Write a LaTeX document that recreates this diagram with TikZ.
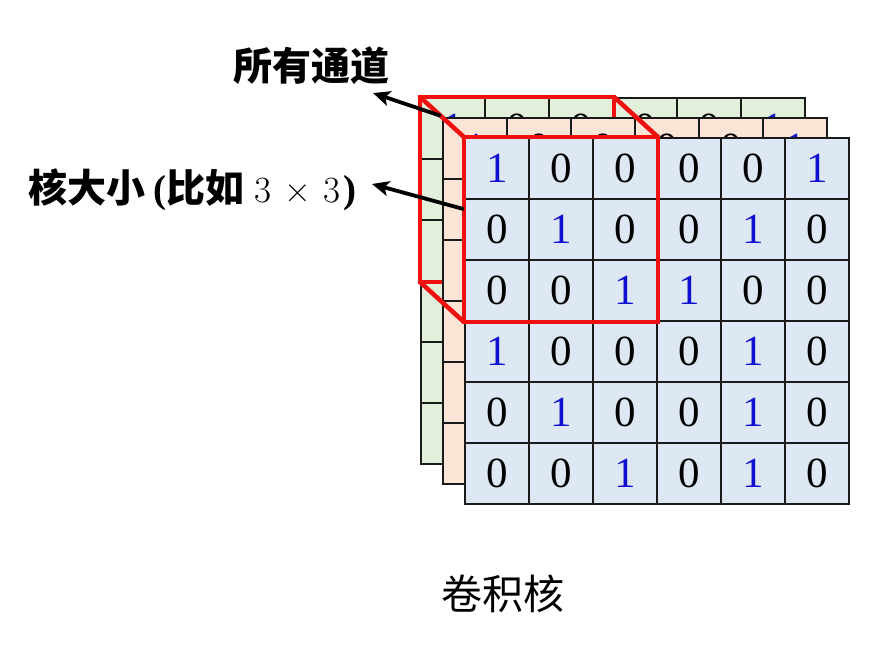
\documentclass[tikz,border=0pt]{standalone}
\usepackage{fontspec}
\setmainfont{Liberation Serif}
\newfontfamily\cjk{Noto Sans CJK SC}
\newfontfamily\lmr{Latin Modern Roman}
\usetikzlibrary{arrows.meta,calc}
\definecolor{gfill}{HTML}{E2EFDA}
\definecolor{ofill}{HTML}{FBE5D6}
\definecolor{bfill}{HTML}{DDE8F4}
\definecolor{gridc}{HTML}{1A1A1A}
\definecolor{redc}{HTML}{F01010}
\definecolor{oneblue}{HTML}{1010D0}
\tikzset{
  cellbox/.style={draw=gridc, line width=2pt, minimum width=64pt, minimum height=61pt, inner sep=0pt, anchor=north west, font=\fontsize{43}{43}\selectfont},
  redline/.style={draw=redc, line width=4.5pt, line join=miter},
  callout/.style={-{Stealth[length=17pt,width=15pt,inset=4pt]}, line width=3.8pt, black},
  lab/.style={font=\cjk\bfseries\fontsize{39}{39}\selectfont, inner sep=0pt},
}
\newcommand\layer[4]{% x y fill prefix
  \foreach \r/\row in {0/{1,0,0,0,0,1},1/{0,1,0,0,1,0},2/{0,0,1,1,0,0},3/{1,0,0,0,1,0},4/{0,1,0,0,1,0},5/{0,0,1,0,1,0}}{
    \foreach \v [count=\c from 0] in \row {
      \ifnum\v=1
        \node[cellbox, fill=#3, text=oneblue] (#4-\r-\c) at ({#1+64*\c},{#2+61*\r}) {1};
      \else
        \node[cellbox, fill=#3, text=black] (#4-\r-\c) at ({#1+64*\c},{#2+61*\r}) {0};
      \fi
    }
  }
}
\begin{document}
\begin{tikzpicture}[x=1pt,y=-1pt]
\useasboundingbox (0,0) rectangle (877,649);
% back (green) layer
\layer{420}{97}{gfill}{g}
\coordinate (bTL) at (g-0-0.north west);
\coordinate (bTR) at (g-0-2.north east);
\coordinate (bBL) at (g-2-0.south west);
\coordinate (bBR) at (g-2-2.south east);
\draw[redline] (bTL) rectangle (bBR);
% middle (orange) layer
\layer{442}{117}{ofill}{o}
% front (blue) layer
\layer{464}{137}{bfill}{f}
\coordinate (fTL) at (f-0-0.north west);
\coordinate (fTR) at (f-0-2.north east);
\coordinate (fBL) at (f-2-0.south west);
\coordinate (fBR) at (f-2-2.south east);
\draw[redline, line cap=round] (bTL) -- (fTL);
\draw[redline, line cap=round] (bTR) -- (fTR);
\draw[redline, line cap=round] (bBL) -- (fBL);
\draw[redline] (fTL) rectangle (fBR);
% labels
\node[lab] (all) at (311,66) {所有通道};
\node[lab, anchor=west] (ksize) at (28,190) {核大小\hspace{8pt}{\rmfamily\bfseries(}比如{\lmr\mdseries\fontsize{37}{37}\selectfont\hspace{10pt}3\hspace{13pt}×\hspace{13pt}3}{\rmfamily\bfseries\hspace{3pt})}};
\node[font=\cjk\fontsize{41}{41}\selectfont, inner sep=0pt] (title) at (503,594) {卷积核};
\coordinate (a1) at ($(bTL)!0.47!(fTL)$);
\coordinate (a1tip) at (373,93);
\coordinate (a2) at ($(fTL)!0.39!(fBL)$);
\coordinate (a2tip) at (372,184);
\draw[callout] (a1) -- (a1tip);
\draw[callout] (a2) -- (a2tip);
\end{tikzpicture}
\end{document}
